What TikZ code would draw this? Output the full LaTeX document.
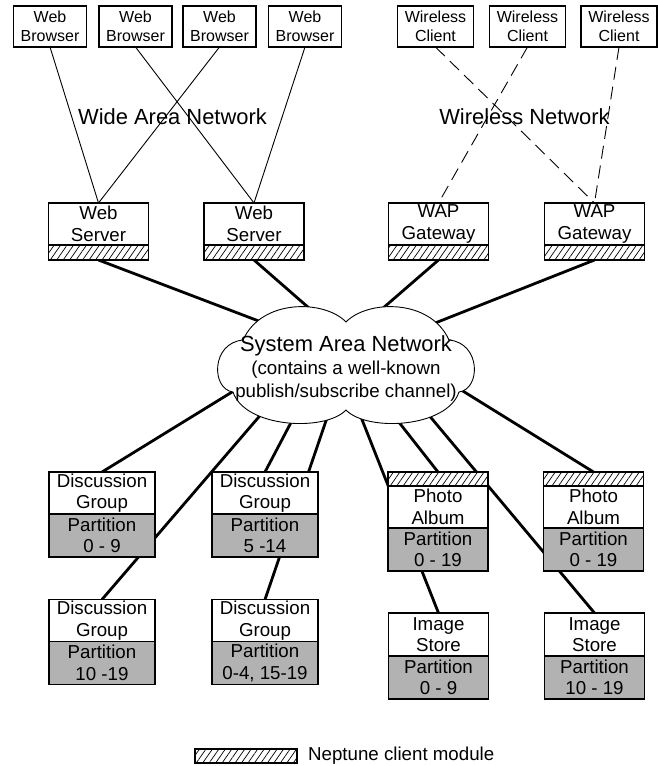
\documentclass[tikz,border=0pt]{standalone}
\usepackage{fontspec}
\setmainfont{Liberation Sans}
\usetikzlibrary{positioning,shapes.geometric,patterns.meta}
\pgfdeclarelayer{bg}
\pgfsetlayers{bg,main}

\begin{document}
\begin{tikzpicture}[x=1pt,y=-1pt,
    client/.style={draw, line width=1.4pt, outer sep=0pt, inner sep=1pt, align=center,
      minimum width=73pt, minimum height=41pt, fill=white, font=\fontsize{16}{18.5}\selectfont},
    modbox/.style={draw, line width=1.4pt, outer sep=0pt, inner sep=1pt, align=center,
      minimum width=100pt, minimum height=42pt, fill=white, font=\fontsize{18.7}{21.5}\selectfont},
    partbox/.style={modbox, fill=black!30, minimum height=43pt},
    neptune/.style={draw, line width=1.4pt, outer sep=0pt, inner sep=0pt,
      minimum width=100pt, minimum height=15pt, preaction={fill=white},
      pattern={Lines[angle=55,distance=5.3pt,line width=0.7pt]}},
    bus/.style={line width=2.8pt},
    wan/.style={line width=0.9pt},
    wless/.style={line width=0.9pt, dash pattern=on 13pt off 7pt},
    netlabel/.style={font=\fontsize{21.9}{24}\selectfont}]
    \useasboundingbox (0,0) rectangle (658,766);

    \node[client] (wb1) at (50,26.5) {Web\\Browser};
    \node[client] (wb2) at (135.5,26.5) {Web\\Browser};
    \node[client] (wb3) at (219.5,26.5) {Web\\Browser};
    \node[client] (wb4) at (305,26.5) {Web\\Browser};
    \node[client, minimum width=76pt] (wc1) at (435.5,26.5) {Wireless\\Client};
    \node[client, minimum width=76pt] (wc2) at (527.5,26.5) {Wireless\\Client};
    \node[client, minimum width=76pt] (wc3) at (619,26.5) {Wireless\\Client};

    \node[netlabel] (wan) at (172.5,117) {Wide Area Network};
    \node[netlabel] (wlan) at (524.5,117) {Wireless Network};

    \node[modbox] (ws1) at (98.5,224) {Web\\Server};
    \node[neptune, below=0pt of ws1] (ws1n) {};
    \node[modbox] (ws2) at (254,224) {Web\\Server};
    \node[neptune, below=0pt of ws2] (ws2n) {};
    \node[modbox] (wap1) at (438.5,224) {WAP\\Gateway};
    \node[neptune, below=0pt of wap1] (wap1n) {};
    \node[modbox] (wap2) at (594.5,224) {WAP\\Gateway};
    \node[neptune, below=0pt of wap2] (wap2n) {};

    % system area network
    \node[ellipse, inner sep=0pt, outer sep=0pt, minimum width=244pt, minimum height=100pt] (san) at (346,365.5) {};
    \draw[line width=0.9pt, fill=white] (346,322) .. controls (325,300) and (262,298) .. (243,340)
      .. controls (211,343) and (211,389) .. (233,392)
      .. controls (245,428) and (325,432) .. (346,410)
      .. controls (367,432) and (447,428) .. (459,392)
      .. controls (481,389) and (481,343) .. (449,340)
      .. controls (430,298) and (367,300) .. (346,322) -- cycle;
    \node[align=center, inner sep=0pt, font=\fontsize{18.7}{23}\selectfont] (santxt) at (346,368)
      {{\fontsize{21.9}{24}\selectfont System Area Network}\\(contains a well-known\\publish/subscribe channel)};

    \node[modbox, minimum width=106pt] (dg1) at (102,493) {Discussion\\Group};
    \node[partbox, minimum width=106pt, below=0pt of dg1] (dg1p) {Partition\\0 - 9};
    \node[modbox, minimum width=106pt] (dg2) at (265,493) {Discussion\\Group};
    \node[partbox, minimum width=106pt, below=0pt of dg2] (dg2p) {Partition\\5 -14};
    \node[modbox, minimum width=106pt] (dg3) at (102,620.5) {Discussion\\Group};
    \node[partbox, minimum width=106pt, below=0pt of dg3] (dg3p) {Partition\\10 -19};
    \node[modbox, minimum width=106pt] (dg4) at (265,620.5) {Discussion\\Group};
    \node[partbox, minimum width=106pt, below=0pt of dg4] (dg4p) {Partition\\0-4, 15-19};

    \node[neptune, minimum height=14pt] (pa1n) at (438,479) {};
    \node[modbox, below=0pt of pa1n] (pa1) {Photo\\Album};
    \node[partbox, below=0pt of pa1] (pa1p) {Partition\\0 - 19};
    \node[neptune, minimum height=14pt] (pa2n) at (593.5,479) {};
    \node[modbox, below=0pt of pa2n] (pa2) {Photo\\Album};
    \node[partbox, below=0pt of pa2] (pa2p) {Partition\\0 - 19};

    \node[modbox, minimum height=43pt] (is1) at (438.5,634.5) {Image\\Store};
    \node[partbox, below=0pt of is1] (is1p) {Partition\\0 - 9};
    \node[modbox, minimum height=43pt] (is2) at (594.5,634.5) {Image\\Store};
    \node[partbox, below=0pt of is2] (is2p) {Partition\\10 - 19};

    \node[neptune, minimum width=102pt, minimum height=14pt] (key) at (246,756) {};
    \node[right=11pt of key, inner sep=0pt, font=\fontsize{18.7}{21.5}\selectfont] (keytxt) {Neptune client module};

    \begin{pgfonlayer}{bg}
    \draw[wan] (wb1.south) -- (ws1.north);
    \draw[wan] (wb3.south) -- (ws1.north);
    \draw[wan] (wb2.south) -- (ws2.north);
    \draw[wan] (wb4.south) -- (ws2.north);
    \draw[wless] (wc1.south) -- (wap2.north);
    \draw[wless] (wc3.south) -- (wap2.north);
    \draw[wless] (wc2.south) -- (wap1.north);

    \draw[bus] (ws1n.south) -- (san.152.6);
    \draw[bus] (ws2n.south) -- (san.119.8);
    \draw[bus] (wap1n.south) -- (san.61.1);
    \draw[bus] (wap2n.south) -- (san.26.4);

    \draw[bus] (san.192.6) -- (dg1.north);
    \draw[bus] (san.207.2) -- (dg3.north);
    \draw[bus] (san.223.5) -- (dg2.north);
    \draw[bus] (san.250.7) -- (dg4.north);
    \draw[bus] (san.286.3) -- (is1.north);
    \draw[bus] (san.314.6) -- (pa1n.north);
    \draw[bus] (san.332.1) -- (is2.north);
    \draw[bus] (san.349.2) -- (pa2n.north);
    \end{pgfonlayer}
\end{tikzpicture}
\end{document}
